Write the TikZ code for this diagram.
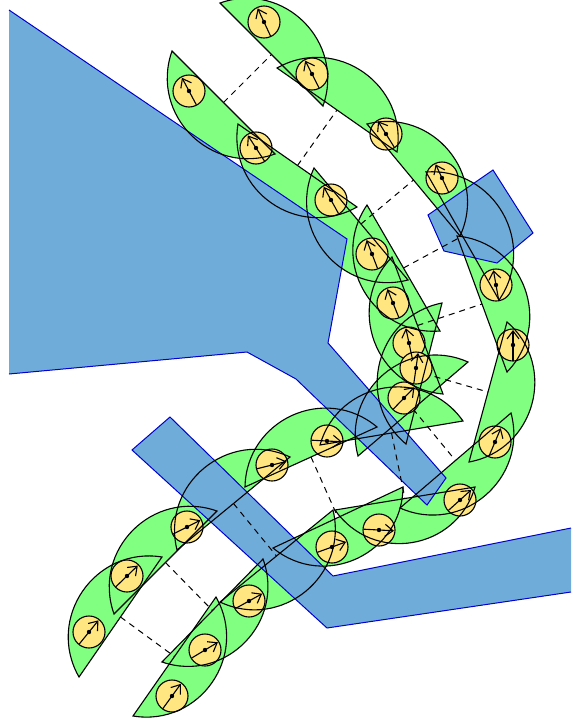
\documentclass[tikz,border=0pt]{standalone}
\usepackage{tikz}
\usetikzlibrary{calc,arrows.meta}
\definecolor{sweepgreen}{RGB}{128,255,128}
\definecolor{wallblue}{RGB}{112,172,218}
\definecolor{wheelyellow}{RGB}{255,230,128}
\tikzset{
  sweepfill/.style={fill=sweepgreen, draw=none},
  sweepline/.style={draw=black, line width=1.1pt},
  rimcurve/.style={bend left=64.4, looseness=1.19},
  wallfill/.style={fill=wallblue, draw=none},
  wallline/.style={draw=blue!80!black, line width=1pt},
  rung/.style={draw=black, line width=1pt, dash pattern=on 6pt off 5pt},
  wheel/.style={circle, draw=black, line width=1.1pt, fill=wheelyellow, minimum size=32pt, inner sep=0pt},
  pointer/.style={-{Straight Barb[length=8pt,width=12pt]}, line width=1.1pt}
}
\newcommand{\rightsweeps}{220/3/323/106, 277/68/397/152, 367/124/460/236, 426/172/499/300, 457/236/507/372, 507/322/469/462, 511/413/400/508, 475/487/335/510, 403/487/273/548, 333/510/220/602, 263/559/162/662, 216/597/133/716}
\newcommand{\leftsweeps}{275/154/172/51, 357/207/238/124, 408/280/314/168, 440/331/367/205, 443/394/392/257, 406/444/442/303, 358/456/468/362, 320/445/463/421, 245/487/377/427, 177/550/290/457, 114/614/217/511, 79/677/162/557}
\newcommand{\wheellist}{264/22/-115, 312/74/-117, 386/134/-122, 442/178/-115, 496/285/-100, 513/345/-90, 495/442/-67, 460/500/-42, 379/530/3, 332/547/-20, 249/601/-29, 205/650/-31, 172/696/-54, 189/91/-118, 256/148/-123, 331/200/-119, 372/254/-111, 393/303/-112, 409/343/-102, 416/368/-82, 404/398/-46, 327/441/3, 272/465/-14, 187/527/-27, 127/576/-44, 89/632/-51}

\begin{document}
\begin{tikzpicture}[x=1pt,y=-1pt]
  \useasboundingbox (0,0) rectangle (571,726);
  \foreach \ax/\ay/\bx/\by [count=\n] in \rightsweeps {
    \fill[sweepfill] (\ax,\ay) to[rimcurve] (\bx,\by) -- cycle;
    \coordinate (r\n) at ($(\ax,\ay)!0.5!(\bx,\by)$);
  }
  \foreach \ax/\ay/\bx/\by [count=\n] in \leftsweeps {
    \fill[sweepfill] (\ax,\ay) to[rimcurve] (\bx,\by) -- cycle;
    \coordinate (l\n) at ($(\ax,\ay)!0.5!(\bx,\by)$);
  }
  \fill[wallfill] (9,10)--(347,239)--(328,343)--(446,478)--(427,505)--(296,379)--(247,352)--(9,374)--cycle;
  \draw[wallline] (9,10)--(347,239)--(328,343)--(446,478)--(427,505)--(296,379)--(247,352)--(9,374);
  \fill[wallfill] (170,417)--(333,576)--(571,528)--(571,592)--(327,628)--(132,450)--cycle;
  \draw[wallline] (571,592)--(327,628)--(132,450)--(170,417)--(333,576)--(571,528);
  \draw[wallline,fill=wallblue] (493,170)--(533,233)--(497,263)--(444,251)--(428,215)--cycle;
  \foreach \n in {1,...,12} {
    \draw[rung] (l\n) -- (r\n);
  }
  \foreach \cx/\cy/\ang [count=\n] in \wheellist {
    \node[wheel] (w\n) at (\cx,\cy) {};
  }
  \foreach \ax/\ay/\bx/\by in \rightsweeps {
    \draw[sweepline] (\ax,\ay) to[rimcurve] (\bx,\by) -- cycle;
  }
  \foreach \ax/\ay/\bx/\by in \leftsweeps {
    \draw[sweepline] (\ax,\ay) to[rimcurve] (\bx,\by) -- cycle;
  }
  \foreach \cx/\cy/\ang [count=\n] in \wheellist {
    \draw[pointer] ($(w\n)+(\ang+180:15.5)$) -- ($(w\n)+(\ang:15)$);
    \fill (w\n) circle[radius=2.2];
  }
\end{tikzpicture}
\end{document}
